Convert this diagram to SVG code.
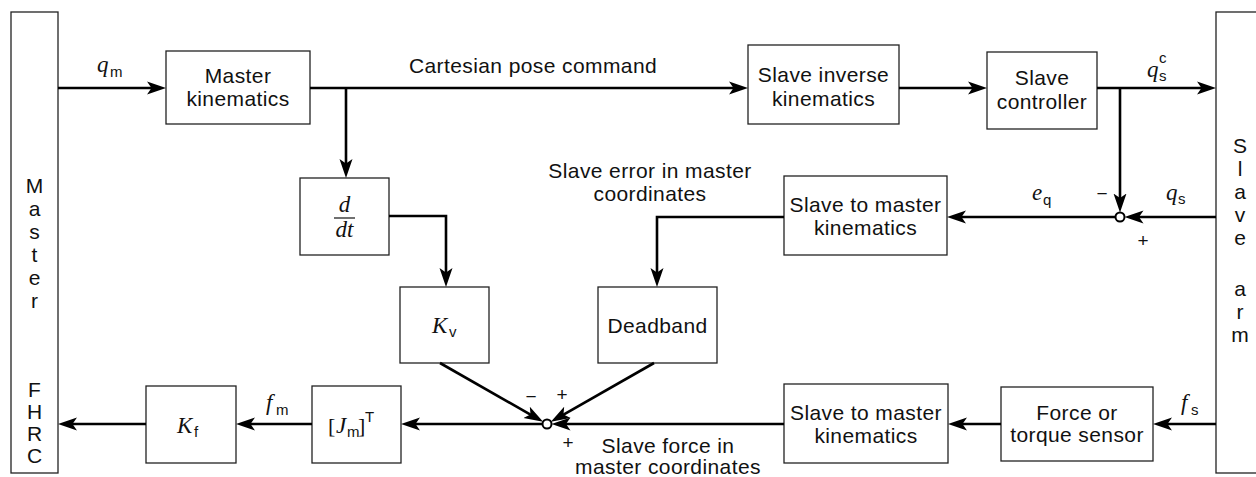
<svg xmlns="http://www.w3.org/2000/svg" width="1256" height="477" viewBox="0 0 1256 477">
  <defs>
    <style>
      .box { fill: #fff; stroke: #222; stroke-width: 1.3; }
      .lbl { font-family: "Liberation Sans", Arial, sans-serif; font-size: 21px; fill: #111; letter-spacing: 0.4px; text-anchor: middle; }
      .col { font-family: "Liberation Sans", Arial, sans-serif; font-size: 21px; fill: #111; text-anchor: middle; }
      .mi { font-family: "Liberation Serif", "DejaVu Serif", serif; font-style: italic; font-size: 23px; fill: #111; }
      .mr { font-family: "Liberation Serif", "DejaVu Serif", serif; font-style: normal; font-size: 22px; fill: #111; }
      .sub { font-family: "Liberation Sans", Arial, sans-serif; font-style: normal; font-size: 15px; fill: #111; }
      .sign { font-family: "Liberation Sans", Arial, sans-serif; font-size: 19px; fill: #111; text-anchor: middle; }
      .wire { fill: none; stroke: #000; stroke-width: 2.6; marker-end: url(#arrow); }
      .sum { fill: #fff; stroke: #000; stroke-width: 2; }
    </style>
    <!-- barbed arrowhead; tip sits 6px beyond the path end -->
    <marker id="arrow" markerUnits="userSpaceOnUse" viewBox="-13 -7 20 14" refX="0" refY="0" markerWidth="20" markerHeight="14" orient="auto">
      <path d="M6,0 L-13,-6.5 L-8.5,0 L-13,6.5 Z" fill="#000"/>
    </marker>
  </defs>

  <rect width="1256" height="477" fill="#fff"/>

  <!-- Master FHRC column -->
  <g id="master">
    <rect class="box" x="11" y="12" width="47" height="461"/>
    <text class="col" x="34.5" y="193">M</text>
    <text class="col" x="34.5" y="216">a</text>
    <text class="col" x="34.5" y="239">s</text>
    <text class="col" x="34.5" y="262">t</text>
    <text class="col" x="34.5" y="285">e</text>
    <text class="col" x="34.5" y="308">r</text>
    <text class="col" x="34.5" y="397">F</text>
    <text class="col" x="34.5" y="419">H</text>
    <text class="col" x="34.5" y="441">R</text>
    <text class="col" x="34.5" y="463">C</text>
  </g>

  <!-- Slave arm column -->
  <g id="slave-arm">
    <rect class="box" x="1216" y="12" width="60" height="461"/>
    <text class="col" x="1240" y="153">S</text>
    <text class="col" x="1240" y="176">l</text>
    <text class="col" x="1240" y="199">a</text>
    <text class="col" x="1240" y="222">v</text>
    <text class="col" x="1240" y="245">e</text>
    <text class="col" x="1240" y="296">a</text>
    <text class="col" x="1240" y="319">r</text>
    <text class="col" x="1240" y="342">m</text>
  </g>

  <g id="master-kinematics">
    <rect class="box" x="166" y="51" width="144" height="73"/>
    <text class="lbl" x="238" y="83">Master</text>
    <text class="lbl" x="238" y="106">kinematics</text>
  </g>

  <g id="slave-inverse-kinematics">
    <rect class="box" x="748" y="45" width="151" height="79"/>
    <text class="lbl" x="823.5" y="82">Slave inverse</text>
    <text class="lbl" x="823.5" y="106">kinematics</text>
  </g>

  <g id="slave-controller">
    <rect class="box" x="987" y="52" width="110" height="77"/>
    <text class="lbl" x="1042" y="85">Slave</text>
    <text class="lbl" x="1042" y="109">controller</text>
  </g>

  <g id="differentiator">
    <rect class="box" x="300" y="178" width="89" height="77"/>
    <text class="mi" x="344.5" y="212" text-anchor="middle">d</text>
    <line x1="334" y1="218" x2="355" y2="218" stroke="#111" stroke-width="1.2"/>
    <text class="mi" x="344.5" y="237" text-anchor="middle">dt</text>
  </g>

  <g id="slave-to-master-upper">
    <rect class="box" x="784" y="176" width="163" height="79"/>
    <text class="lbl" x="865.5" y="212">Slave to master</text>
    <text class="lbl" x="865.5" y="235">kinematics</text>
  </g>

  <g id="gain-kv">
    <rect class="box" x="400" y="287" width="89" height="76"/>
    <text class="mi" x="432" y="333">K</text>
    <text class="sub" x="449" y="337">v</text>
  </g>

  <g id="deadband">
    <rect class="box" x="598" y="287" width="119" height="76"/>
    <text class="lbl" x="657.5" y="333">Deadband</text>
  </g>

  <g id="gain-kf">
    <rect class="box" x="146" y="386" width="90" height="77"/>
    <text class="mi" x="177" y="433">K</text>
    <text class="sub" x="194" y="437">f</text>
  </g>

  <g id="jacobian-transpose">
    <rect class="box" x="312" y="386" width="89" height="77"/>
    <text class="mr" x="328" y="433">[</text>
    <text class="mi" x="336" y="433">J</text>
    <text class="sub" x="347" y="437">m</text>
    <text class="mr" x="358" y="433">]</text>
    <text class="sub" x="365" y="422">T</text>
  </g>

  <g id="slave-to-master-lower">
    <rect class="box" x="784" y="384" width="164" height="79"/>
    <text class="lbl" x="866" y="420">Slave to master</text>
    <text class="lbl" x="866" y="443">kinematics</text>
  </g>

  <g id="force-sensor">
    <rect class="box" x="1001" y="387" width="152" height="74"/>
    <text class="lbl" x="1077" y="420">Force or</text>
    <text class="lbl" x="1077" y="442">torque sensor</text>
  </g>

  <!-- signal paths -->
  <g id="connectors">
    <path class="wire" d="M58,88 H160"/>
    <path class="wire" d="M310,88 H742"/>
    <path class="wire" d="M346,88 V172"/>
    <path class="wire" d="M899,88 H981"/>
    <path class="wire" d="M1097,88 H1210"/>
    <path class="wire" d="M1120,88 V206.5"/>
    <path class="wire" d="M1216,217 H1130.5"/>
    <path class="wire" d="M1115.5,217 H953"/>
    <path class="wire" d="M389,216 H446 V281"/>
    <path class="wire" d="M784,217 H657 V281"/>
    <path class="wire" d="M440,363 L537.9,418.8"/>
    <path class="wire" d="M654,363 L556.1,418.8"/>
    <path class="wire" d="M784,424 H557.5"/>
    <path class="wire" d="M542.5,424 H407"/>
    <path class="wire" d="M312,424 H242"/>
    <path class="wire" d="M146,424 H64"/>
    <path class="wire" d="M1001,424 H954"/>
    <path class="wire" d="M1216,424 H1159"/>
  </g>

  <!-- summing junctions -->
  <g id="sum-error">
    <circle class="sum" cx="1120" cy="217" r="4.5"/>
    <text class="sign" x="1102" y="200">−</text>
    <text class="sign" x="1143" y="247">+</text>
  </g>
  <g id="sum-force">
    <circle class="sum" cx="547" cy="424" r="4.5"/>
    <text class="sign" x="531" y="403">−</text>
    <text class="sign" x="562" y="401">+</text>
    <text class="sign" x="568" y="449">+</text>
  </g>

  <!-- signal labels -->
  <g id="signal-labels">
    <text class="mi" x="97" y="72">q</text>
    <text class="sub" x="110" y="77">m</text>
    <text class="lbl" x="533" y="73">Cartesian pose command</text>
    <text class="mi" x="1147" y="77">q</text>
    <text class="sub" x="1159" y="81">s</text>
    <text class="sub" x="1159" y="63">c</text>
    <text class="lbl" x="650" y="178">Slave error in master</text>
    <text class="lbl" x="650" y="201">coordinates</text>
    <text class="mi" x="1032" y="200">e</text>
    <text class="sub" x="1043" y="205">q</text>
    <text class="mi" x="1166" y="200">q</text>
    <text class="sub" x="1178" y="204">s</text>
    <text class="mi" x="266" y="410">f</text>
    <text class="sub" x="276" y="415">m</text>
    <text class="mi" x="1181" y="410">f</text>
    <text class="sub" x="1191" y="415">s</text>
    <text class="lbl" x="668" y="453">Slave force in</text>
    <text class="lbl" x="668" y="474">master coordinates</text>
  </g>
</svg>
